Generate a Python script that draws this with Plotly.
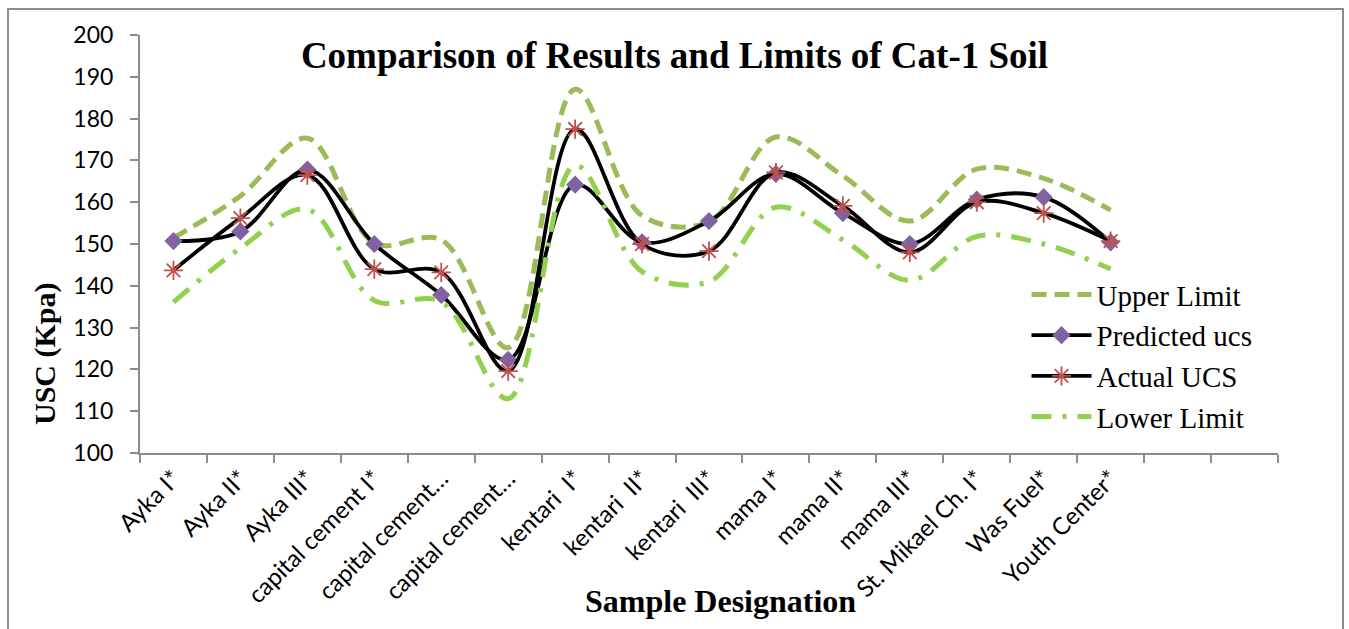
import plotly.graph_objects as go

# Sample designations (last two slots on the axis are left empty)
samples = ["Ayka I*", "Ayka II*", "Ayka III*", "capital cement I*", "capital cement…",
           "capital cement…", "kentari  I*", "kentari  II*", "kentari  III*", "mama I*",
           "mama II*", "mama III*", "St. Mikael Ch. I*", "Was Fuel*", "Youth Center*"]
n_slots = 17

upper_limit = [151.5, 161.5, 175.3, 150.2, 151.0, 125.2, 187.0, 156.8, 155.3, 175.6,
               166.3, 155.5, 167.9, 165.7, 158.1]
predicted_ucs = [150.7, 153.0, 167.8, 150.0, 137.8, 122.3, 164.2, 150.4, 155.5, 166.8,
                 157.4, 150.0, 160.6, 161.2, 150.4]
actual_ucs = [143.7, 156.2, 166.5, 144.0, 143.2, 119.6, 177.5, 150.0, 148.3, 167.1,
              159.1, 148.0, 160.0, 157.4, 150.7]
lower_limit = [136.1, 149.0, 158.3, 136.5, 136.2, 113.0, 168.8, 143.4, 141.0, 158.8,
               151.0, 141.3, 151.8, 150.0, 144.0]

x_idx = list(range(len(samples)))

fig = go.Figure()
fig.add_trace(go.Scatter(
    x=x_idx, y=upper_limit, name="Upper Limit", mode="lines", legendgroup="a",
    line=dict(color="#9BBB59", width=5, dash="15px,8px", shape="spline", smoothing=1.0)))
fig.add_trace(go.Scatter(
    x=x_idx, y=predicted_ucs, name="Predicted ucs", mode="lines+markers", legendgroup="b",
    line=dict(color="black", width=3.8, shape="spline", smoothing=1.0),
    marker=dict(symbol="diamond", size=14, color="#8064A2")))
fig.add_trace(go.Scatter(
    x=x_idx, y=actual_ucs, name="Actual UCS", mode="lines+markers", legendgroup="c",
    line=dict(color="black", width=3.8, shape="spline", smoothing=1.0),
    marker=dict(symbol="asterisk-open", size=16, color="#C0504D",
                line=dict(color="#C0504D", width=1.8))))
fig.add_trace(go.Scatter(
    x=x_idx, y=lower_limit, name="Lower Limit", mode="lines", legendgroup="d",
    line=dict(color="#92D050", width=5, dash="20px,11px,4px,11px", shape="spline", smoothing=1.0)))

axis_color = "#8C8C8C"
fig.update_layout(
    width=1349, height=629,
    margin=dict(l=140, r=71, t=35, b=176),
    paper_bgcolor="white", plot_bgcolor="white",
    showlegend=True,
    title=dict(text="<b>Comparison of Results and Limits of Cat-1 Soil</b>",
               x=0.5, xanchor="center", y=1 - 55 / 629, yanchor="middle",
               font=dict(family="Liberation Serif", size=37, color="black")),
    legend=dict(x=0.779, y=0.44, xanchor="left", yanchor="top",
                font=dict(family="Liberation Serif", size=29, color="black"),
                bgcolor="rgba(0,0,0,0)", tracegroupgap=0, itemwidth=60),
    xaxis=dict(range=[-0.5, n_slots - 0.5], tickmode="array", tickvals=x_idx, ticktext=samples,
               tickangle=-45, ticks="", showgrid=False, zeroline=False,
               showline=True, linecolor=axis_color, linewidth=2,
               tickfont=dict(family="Lato", size=24, color="black"),
               minor=dict(tick0=-0.5, dtick=1, ticks="outside", ticklen=8,
                          tickwidth=2, tickcolor=axis_color, showgrid=False)),
    yaxis=dict(range=[100, 200], dtick=10, ticks="outside", ticklen=8, tickwidth=2,
               tickcolor=axis_color, showline=True, linecolor=axis_color, linewidth=2,
               showgrid=False, zeroline=False, ticklabelstandoff=12,
               tickfont=dict(family="Lato", size=23, color="black")),
)

# Chart-area frame
fig.add_shape(type="rect", xref="paper", yref="paper",
              x0=(8 - 140) / 1138, x1=(1343 - 140) / 1138,
              y0=(453 - 660) / 418, y1=(453 - 9) / 418,
              line=dict(color="#8C8C8C", width=2), fillcolor="rgba(0,0,0,0)", layer="below")

# Axis titles
fig.add_annotation(text="<b>USC (Kpa)</b>", xref="paper", yref="paper",
                   x=(45 - 140) / 1138, y=(453 - 354) / 418, xanchor="center", yanchor="middle",
                   textangle=-90, showarrow=False,
                   font=dict(family="Liberation Serif", size=30, color="black"))
fig.add_annotation(text="<b>Sample Designation</b>", xref="paper", yref="paper",
                   x=(720 - 140) / 1138, y=(453 - 601) / 418, xanchor="center", yanchor="middle",
                   showarrow=False,
                   font=dict(family="Liberation Serif", size=32, color="black"))

fig.write_html("out.html")
